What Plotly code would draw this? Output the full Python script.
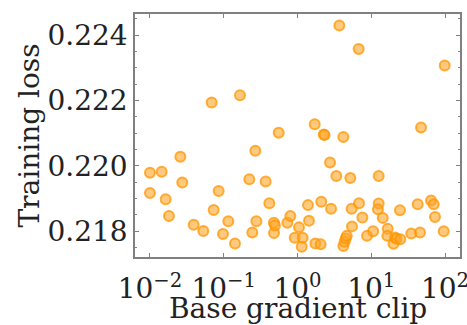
import plotly.graph_objects as go

clip = [0.01, 0.01, 0.0144, 0.0163, 0.0181, 0.0258, 0.0274, 0.0391, 0.0528, 0.0686,
        0.0730, 0.0853, 0.0977, 0.1153, 0.142, 0.166, 0.222, 0.244, 0.268, 0.277,
        0.370, 0.415, 0.480, 0.478, 0.495, 0.556, 0.728, 0.800, 0.916, 1.047,
        1.14, 1.175, 1.387, 1.43, 1.71, 1.746, 2.06, 2.10, 2.27, 2.33,
        2.76, 2.85, 3.36, 3.69, 4.18, 4.18, 4.35, 4.5, 4.65, 5.2,
        5.42, 5.48, 6.75, 6.82, 7.57, 8.76, 10.6, 12.6, 12.6, 12.3,
        14.3, 16.7, 16.5, 20.0, 21.0, 22.0, 24.8, 24.5, 34.9, 42.6,
        45.8, 47.3, 64.6, 70.2, 73.1, 96.0, 99.0]
loss = [0.21979, 0.21917, 0.21982, 0.21898, 0.21847, 0.22028, 0.21949, 0.21820, 0.21801, 0.22194,
        0.21865, 0.21923, 0.21792, 0.21831, 0.21763, 0.22216, 0.21959, 0.21796, 0.22046, 0.21831,
        0.21952, 0.21886, 0.21795, 0.21826, 0.21818, 0.22101, 0.21826, 0.21847, 0.21780, 0.21812,
        0.21753, 0.21780, 0.21880, 0.21832, 0.22127, 0.21763, 0.21760, 0.21890, 0.22096, 0.22094,
        0.22010, 0.21869, 0.21969, 0.22429, 0.22088, 0.21755, 0.21768, 0.21778, 0.21786, 0.21963,
        0.21869, 0.21815, 0.22357, 0.21886, 0.21842, 0.21786, 0.21800, 0.21969, 0.21885, 0.21867,
        0.21841, 0.21808, 0.21786, 0.21762, 0.21781, 0.21777, 0.21776, 0.21864, 0.21793, 0.21883,
        0.21796, 0.22117, 0.21894, 0.21883, 0.21844, 0.21800, 0.22307]

x_tickvals = [0.01, 0.1, 1, 10, 100]
x_ticktext = ["10<sup>\u22122</sup>", "10<sup>\u22121</sup>", "10<sup>0</sup>", "10<sup>1</sup>", "10<sup>2</sup>"]
y_tickvals = [0.218, 0.220, 0.222, 0.224]
y_ticktext = ["0.218", "0.220", "0.222", "0.224"]
x_title = "Base gradient clip"
y_title = "Training loss"

font = dict(family="DejaVu Serif", size=28, color="#222222")
axcol = "#808080"

fig = go.Figure(go.Scatter(
    x=clip, y=loss, mode="markers",
    marker=dict(size=10, color="rgba(255,165,40,0.6)",
                line=dict(color="rgba(255,150,0,0.75)", width=2)),
))

fig.update_layout(
    width=467, height=325,
    margin=dict(l=135, r=7, t=14, b=68, autoexpand=False),
    plot_bgcolor="white", paper_bgcolor="white",
    showlegend=False, font=font,
)
fig.add_annotation(text=x_title, xref="paper", yref="paper", x=0.5, y=0,
                   xanchor="center", yanchor="middle", yshift=-51,
                   showarrow=False, font=font, borderpad=0)
fig.update_xaxes(
    type="log", range=[-2.203, 2.203],
    tickvals=x_tickvals, ticktext=x_ticktext,
    ticks="inside", ticklen=4, tickcolor=axcol, tickwidth=1,
    showline=True, linecolor=axcol, linewidth=1.5, mirror="ticks",
    showgrid=False, zeroline=False, automargin=False,
    ticklabeloverflow="allow", ticklabelstandoff=6,
    tickfont=font,
)
fig.update_yaxes(
    range=[0.217214, 0.224643],
    tickvals=y_tickvals, ticktext=y_ticktext,
    ticks="inside", ticklen=4, tickcolor=axcol, tickwidth=1,
    minor=dict(dtick=0.0005, tick0=0.218, ticks="inside", ticklen=2, tickcolor=axcol, showgrid=False),
    showline=True, linecolor=axcol, linewidth=1.5, mirror="ticks",
    showgrid=False, zeroline=False, automargin=False,
    ticklabeloverflow="allow",
    title=dict(text=y_title, font=font, standoff=0),
    tickfont=font,
)
fig.write_html("out.html", config={"displayModeBar": False},
               post_script="document.body.style.margin='0';document.body.style.padding='0';")
